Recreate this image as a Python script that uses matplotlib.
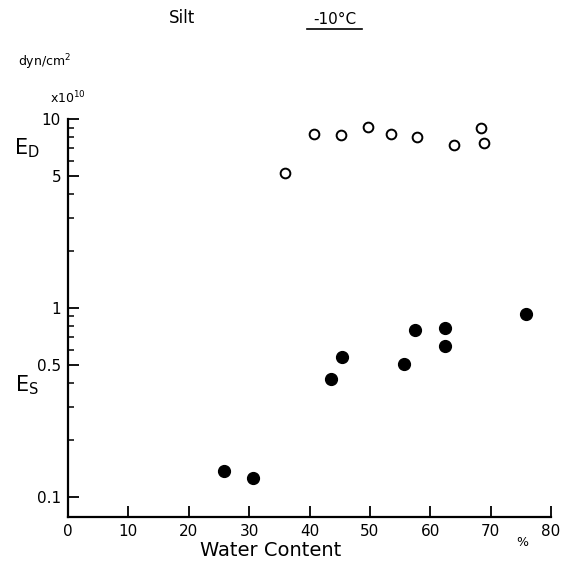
import matplotlib
matplotlib.use("Agg")
import matplotlib.pyplot as plt
from matplotlib.ticker import FixedLocator, NullFormatter

# E_D (open circles), x10^10 dyn/cm^2
ed_water = [35.9, 40.8, 45.3, 49.7, 53.5, 57.8, 63.9, 68.4, 68.9]
ed_val = [5.2, 8.3, 8.25, 9.1, 8.3, 8.0, 7.3, 9.0, 7.45]

# E_S (filled circles)
es_water = [25.9, 30.6, 43.5, 45.4, 55.7, 57.5, 62.5, 62.5, 75.9]
es_val = [0.137, 0.126, 0.418, 0.546, 0.504, 0.76, 0.785, 0.625, 0.925]

xticks = [0, 10, 20, 30, 40, 50, 60, 70, 80]
yticks = [0.1, 0.5, 1, 5, 10]
ytick_labels = ["0.1", "0.5", "1", "5", "10"]
yminor = [0.2, 0.3, 0.4, 0.6, 0.7, 0.8, 0.9, 2, 3, 4, 6, 7, 8, 9]

fig = plt.figure(figsize=(5.65, 5.68), dpi=100)
ax = fig.add_axes([68/565, 1-517/568, (551-68)/565, (517-119)/568])

ax.plot(ed_water, ed_val, 'o', mfc='white', mec='black', mew=1.4, ms=7)
ax.plot(es_water, es_val, 'o', color='black', ms=8.5)

ax.set_yscale('log')
ax.set_xlim(0, 80)
ax.set_ylim(0.078, 10)
ax.set_xticks(xticks)
ax.set_xticklabels([str(t) for t in xticks])
ax.yaxis.set_major_locator(FixedLocator(yticks))
ax.set_yticklabels(ytick_labels)
ax.yaxis.set_minor_locator(FixedLocator(yminor))
ax.yaxis.set_minor_formatter(NullFormatter())

for s in ['top', 'right']:
    ax.spines[s].set_visible(False)
for s in ['left', 'bottom']:
    ax.spines[s].set_linewidth(1.6)
ax.tick_params(which='major', direction='in', length=8, width=1.3, labelsize=11, pad=5)
ax.tick_params(which='minor', direction='in', length=4.5, width=1.1)

fig.text(182/565, 1-18/568, "Silt", ha='center', va='center', fontsize=12)
fig.text(335/565, 1-20/568, "-10°C", ha='center', va='center', fontsize=11)
fig.add_artist(plt.Line2D([307/565, 362/565], [1-29/568, 1-29/568], color='black', lw=1.2))
fig.text(45/565, 1-62/568, "dyn/cm$^2$", ha='center', va='center', fontsize=9)
fig.text(68/565, 1-98/568, "x10$^{10}$", ha='center', va='center', fontsize=9)
fig.text(27/565, 1-148/568, "E$_\\mathregular{D}$", ha='center', va='center', fontsize=15)
fig.text(27/565, 1-385/568, "E$_\\mathregular{S}$", ha='center', va='center', fontsize=15)
fig.text(271/565, 1-551/568, "Water Content", ha='center', va='center', fontsize=14)
fig.text(522/565, 1-543/568, "%", ha='center', va='center', fontsize=9)

fig.savefig("out.png", dpi=100)
